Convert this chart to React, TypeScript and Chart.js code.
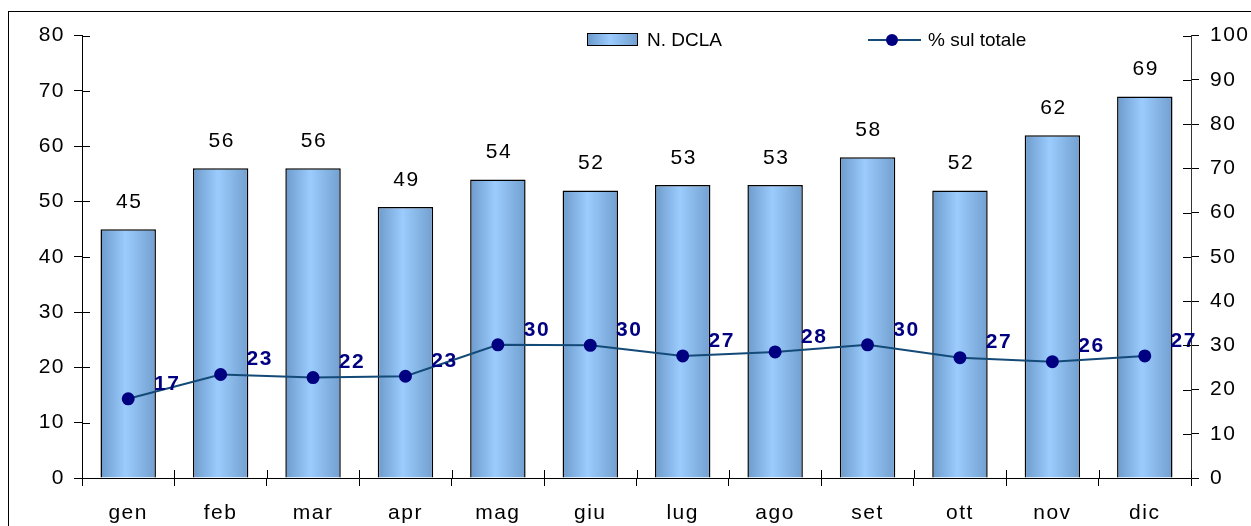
import React, { useEffect, useRef } from "react";
import { Chart, registerables } from "chart.js";
Chart.register(...registerables);

const months = ["gen", "feb", "mar", "apr", "mag", "giu", "lug", "ago", "set", "ott", "nov", "dic"];
const dclaCounts = [45, 56, 56, 49, 54, 52, 53, 53, 58, 52, 62, 69];
const pctOfTotal = [17.9, 23.4, 22.7, 23.0, 30.1, 30.0, 27.6, 28.5, 30.1, 27.2, 26.3, 27.6];
const leftAxisMax = 80;
const rightAxisMax = 100;
const axisStep = 10;

const FONT = "'Liberation Sans', Arial, sans-serif";

const spacingPlugin = {
  id: "spacing",
  beforeDraw(chart: any) {
    (chart.ctx as any).letterSpacing = "1.5px";
  },
};

const innerTicksPlugin = {
  id: "innerTicks",
  afterDraw(chart: any) {
    const { ctx, scales } = chart;
    const x = scales.x, y = scales.y, y1 = scales.y1;
    ctx.save();
    ctx.strokeStyle = "#000";
    ctx.lineWidth = 1;
    ctx.beginPath();
    y.ticks.forEach((_t: any, i: number) => {
      const py = Math.round(y.getPixelForTick(i)) + 0.5;
      ctx.moveTo(y.right, py);
      ctx.lineTo(y.right + 8, py);
    });
    y1.ticks.forEach((_t: any, i: number) => {
      const py = Math.round(y1.getPixelForTick(i)) + 0.5;
      ctx.moveTo(y1.left - 8, py);
      ctx.lineTo(y1.left, py);
    });
    const step = x.width / months.length;
    for (let i = 0; i <= months.length; i++) {
      const px = Math.round(x.getPixelForValue(0) - step / 2 + i * step) + 0.5;
      ctx.moveTo(px, x.top);
      ctx.lineTo(px, x.top - 8);
    }
    ctx.stroke();
    ctx.restore();
  },
};

const valueLabelsPlugin = {
  id: "valueLabels",
  afterDatasetsDraw(chart: any) {
    const ctx = chart.ctx;
    ctx.save();
    const barMeta = chart.getDatasetMeta(0);
    ctx.font = `21px ${FONT}`;
    ctx.fillStyle = "#000";
    ctx.textAlign = "center";
    ctx.textBaseline = "alphabetic";
    barMeta.data.forEach((el: any, i: number) => {
      ctx.fillText(String(dclaCounts[i]), el.x + 1, el.y - 21);
    });
    const lineMeta = chart.getDatasetMeta(1);
    ctx.font = `bold 21px ${FONT}`;
    ctx.fillStyle = "#000080";
    ctx.textBaseline = "middle";
    lineMeta.data.forEach((el: any, i: number) => {
      ctx.fillText(String(Math.floor(pctOfTotal[i])), el.x + 39, el.y - 15);
    });
    ctx.restore();
  },
};

function barGradient(c: any) {
  const chart = c.chart;
  const xs = chart.scales && chart.scales.x;
  if (!xs || c.dataIndex == null || !xs.width) return "#99ccff";
  const cx = xs.getPixelForValue(c.dataIndex);
  const w = (xs.width / months.length) * 0.6;
  const g = chart.ctx.createLinearGradient(cx - w / 2, 0, cx + w / 2, 0);
  g.addColorStop(0, "#6c9acb");
  g.addColorStop(0.45, "#9bccfd");
  g.addColorStop(1, "#729fcf");
  return g;
}

export default function App() {
  const canvasRef = useRef<HTMLCanvasElement | null>(null);

  useEffect(() => {
    if (!canvasRef.current) return;
    const tickFont = { family: FONT, size: 21 };
    const chart = new Chart(canvasRef.current, {
      type: "bar",
      data: {
        labels: months,
        datasets: [
          {
            type: "bar",
            label: "N. DCLA",
            data: dclaCounts,
            backgroundColor: barGradient as any,
            borderColor: "#000",
            borderWidth: 1.5,
            barPercentage: 0.6,
            categoryPercentage: 1,
            yAxisID: "y",
            order: 1,
          },
          {
            type: "line",
            label: "% sul totale",
            data: pctOfTotal,
            borderColor: "#134a78",
            borderWidth: 2,
            pointRadius: 5.5,
            pointBackgroundColor: "#000080",
            pointBorderColor: "#000080",
            tension: 0,
            yAxisID: "y1",
            order: 0,
          } as any,
        ],
      },
      options: {
        responsive: false,
        animation: false,
        events: [],
        layout: { padding: { top: 21, left: 0, right: 0, bottom: 0 } },
        plugins: { legend: { display: false }, tooltip: { enabled: false } },
        scales: {
          x: {
            grid: { drawOnChartArea: false, tickLength: 8, color: "#000", offset: true },
            border: { color: "#000", width: 1 },
            ticks: { font: tickFont, color: "#000", padding: 15, maxRotation: 0 },
            afterFit: (s: any) => { s.height = 48; },
          },
          y: {
            position: "left",
            min: 0,
            max: leftAxisMax,
            ticks: { stepSize: axisStep, font: tickFont, color: "#000", padding: 9 },
            grid: { drawOnChartArea: false, tickLength: 8, color: "#000" },
            border: { color: "#000", width: 1 },
            afterFit: (s: any) => { s.width = 73; },
          },
          y1: {
            position: "right",
            min: 0,
            max: rightAxisMax,
            ticks: { stepSize: axisStep, font: tickFont, color: "#000", padding: 11 },
            grid: { drawOnChartArea: false, tickLength: 8, color: "#000" },
            border: { color: "#333", width: 1 },
            afterFit: (s: any) => { s.width = 60; },
          },
        },
      } as any,
      plugins: [spacingPlugin, innerTicksPlugin, valueLabelsPlugin],
    });
    return () => chart.destroy();
  }, []);

  return (
    <div
      style={{
        position: "absolute",
        left: 8,
        top: 11,
        width: 1242,
        height: 514,
        borderTop: "1px solid #000",
        borderLeft: "1px solid #000",
        overflow: "hidden",
        background: "#fff",
      }}
    >
      <canvas ref={canvasRef} width={1242} height={514} style={{ display: "block", width: 1242, height: 514 }} />
      <div
        style={{
          position: "absolute",
          left: 578,
          top: 21,
          width: 51,
          height: 13,
          boxSizing: "border-box",
          border: "1.5px solid #000",
          background: "linear-gradient(to right, #6c9acb 0%, #9bccfd 45%, #729fcf 100%)",
        }}
      />
      <div style={{ position: "absolute", left: 638, top: 18, font: `19px ${FONT}`, lineHeight: "19px", color: "#000", whiteSpace: "nowrap" }}>
        N. DCLA
      </div>
      <div style={{ position: "absolute", left: 859, top: 27, width: 53, height: 2, background: "#134a78" }} />
      <div style={{ position: "absolute", left: 877, top: 22, width: 12, height: 12, borderRadius: 6, background: "#000080" }} />
      <div style={{ position: "absolute", left: 919, top: 18, font: `19px ${FONT}`, lineHeight: "19px", color: "#000", whiteSpace: "nowrap" }}>
        % sul totale
      </div>
    </div>
  );
}
